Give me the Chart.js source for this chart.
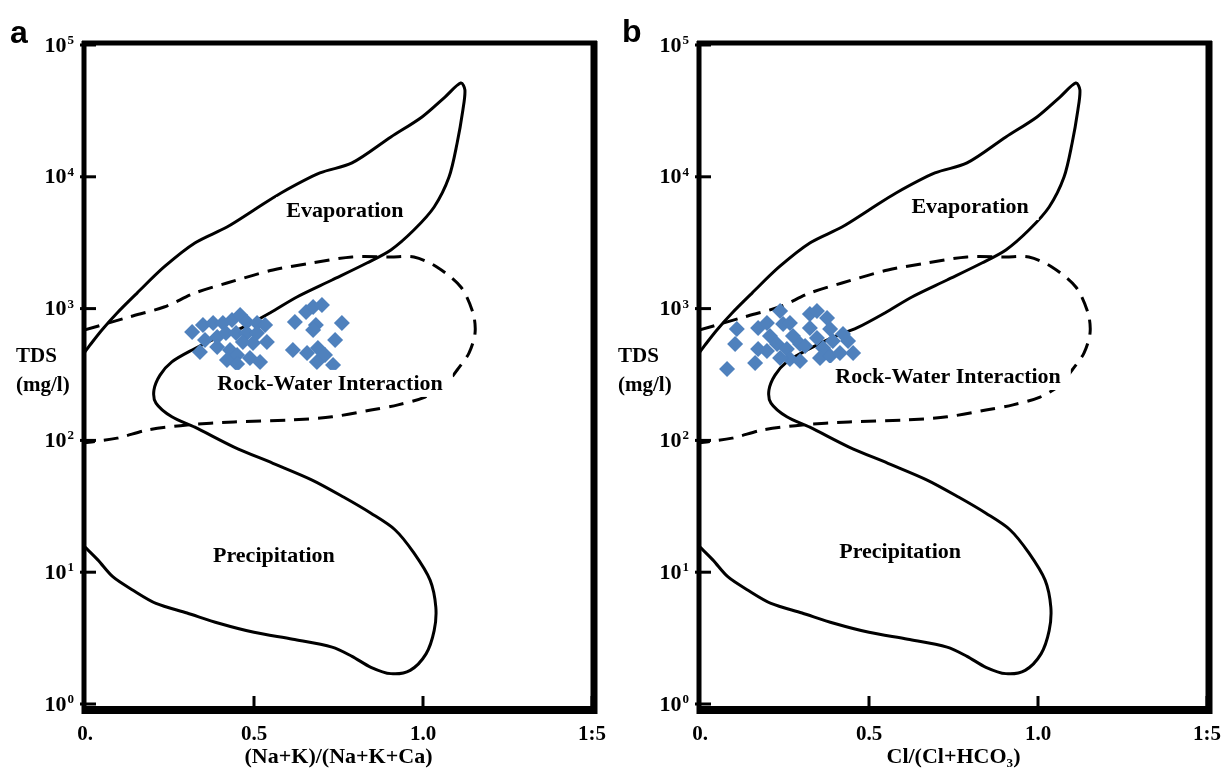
<!DOCTYPE html>
<html>
<head>
<meta charset="utf-8">
<title>Gibbs diagram</title>
<script src="https://cdn.jsdelivr.net/npm/chart.js@4.4.1/dist/chart.umd.min.js"></script>
<style>
  html, body { margin: 0; padding: 0; background: #fff; }
  #wrap { position: relative; width: 1226px; height: 773px; overflow: hidden; background: #fff; }
  #wrap canvas { position: absolute; top: 0; }
  #chartA { left: 0; }
  #chartB { left: 613px; }
</style>
</head>
<body>
<div id="wrap">
  <canvas id="chartA" width="613" height="773"></canvas>
  <canvas id="chartB" width="613" height="773"></canvas>
</div>
<script>
// 축 눈금
const xTickValues = [0, 0.5, 1.0, 1.5];
const xTickLabels = ['0.', '0.5', '1.0', '1:5'];
const yTickValues = [1, 10, 100, 1000, 10000, 100000];
const yTickBase = '10';
const yTickExponents = ['0', '1', '2', '3', '4', '5'];

// Gibbs 경계선 (실선) - 비율, TDS(mg/l)
const boundaryRatio = [0, 0.015, 0.050, 0.095, 0.154, 0.234, 0.325, 0.420, 0.500, 0.580,
    0.695, 0.790, 0.905, 0.997, 1.065, 1.112, 1.124, 1.118, 1.101, 1.077,
    1.033, 0.973, 0.905, 0.834, 0.731, 0.627, 0.547, 0.464, 0.396, 0.317,
    0.257, 0.222, 0.204, 0.210, 0.257, 0.325, 0.441, 0.556, 0.672, 0.766,
    0.846, 0.917, 0.973, 1.021, 1.038, 1.033, 1.009, 0.962, 0.905, 0.846,
    0.790, 0.731, 0.615, 0.500, 0.396, 0.302, 0.210, 0.142, 0.083, 0.038, 0];
const boundaryTds = [469, 530, 689, 927, 1312, 2070, 3148, 4159, 5598, 7534,
    10690, 12735, 20045, 28445, 40272, 51523, 45604, 32137, 18030, 9954,
    5902, 3945, 2786, 2218, 1648, 1225, 927, 713, 610, 485,
    394, 313, 241, 192, 151, 126, 89, 67, 50, 37,
    28, 21, 14, 8.7, 5.4, 3.6, 2.4, 1.8, 1.7, 1.9,
    2.3, 2.7, 3.1, 3.5, 4.1, 4.9, 5.8, 7.3, 9.2, 12.4, 15.5];

// 암석-물 상호작용 영역 (점선)
const dashedRatio = [0, 0.130, 0.234, 0.325, 0.420, 0.556, 0.672, 0.790, 0.905, 0.973,
    1.041, 1.112, 1.148, 1.154, 1.136, 1.101, 1.065, 1.006, 0.926, 0.846,
    0.731, 0.615, 0.441, 0.302, 0.186, 0.095, 0];
const dashedTds = [689, 863, 1028, 1312, 1564, 1963, 2218, 2465, 2465, 2465,
    2070, 1459, 927, 653, 460, 342, 263, 213, 186, 170,
    151, 143, 138, 131, 120, 104, 96];

// 패널 a 시료: (Na+K)/(Na+K+Ca)
const sampleRatioA = [0.317, 0.349, 0.379, 0.408, 0.435, 0.459, 0.479, 0.509, 0.533, 0.355,
    0.391, 0.417, 0.447, 0.479, 0.509, 0.340, 0.391, 0.429, 0.467, 0.497,
    0.538, 0.420, 0.450, 0.450, 0.488, 0.518, 0.621, 0.654, 0.675, 0.701,
    0.683, 0.760, 0.675, 0.740, 0.615, 0.657, 0.689, 0.710, 0.686, 0.734];
const sampleTdsA = [664, 751, 778, 778, 820, 894, 791, 778, 751, 578,
    610, 653, 653, 653, 653, 469, 512, 485, 558, 548,
    558, 407, 445, 380, 422, 394, 791, 942, 1028, 1065,
    751, 778, 689, 578, 485, 460, 502, 445, 394, 373];

// 패널 b 시료: Cl/(Cl+HCO3)
const sampleRatioB = [0.080, 0.109, 0.104, 0.163, 0.172, 0.172, 0.198, 0.207, 0.237, 0.246,
    0.228, 0.198, 0.266, 0.275, 0.257, 0.266, 0.237, 0.296, 0.325, 0.346,
    0.325, 0.376, 0.385, 0.346, 0.364, 0.393, 0.355, 0.385, 0.414, 0.438,
    0.453, 0.423, 0.311, 0.296];
const sampleTdsB = [348, 700, 539, 387, 713, 494, 778, 620, 959, 764,
    539, 477, 778, 620, 494, 415, 422, 539, 910, 959,
    713, 849, 700, 598, 502, 568, 422, 437, 460, 568,
    460, 642, 520, 400];

// 영역 이름
const regionLabelsA = [
    { text: 'Evaporation', x: 0.769, y: 5600 },
    { text: 'Rock-Water Interaction', x: 0.725, y: 273 },
    { text: 'Precipitation', x: 0.559, y: 13.5 }
];
const regionLabelsB = [
    { text: 'Evaporation', x: 0.799, y: 6000 },
    { text: 'Rock-Water Interaction', x: 0.734, y: 308 },
    { text: 'Precipitation', x: 0.592, y: 14.5 }
];

const $ = (id) => document.getElementById(id);
const SERIF = "'Liberation Serif', 'DejaVu Serif', serif";

Chart.defaults.font.family = SERIF;
Chart.defaults.font.weight = 'bold';
Chart.defaults.color = '#000';

const toPoints = (xs, ys) => xs.map((v, i) => ({ x: v, y: ys[i] }));

/**
 * 테두리, 안쪽 눈금, y 눈금 라벨, 영역 이름, TDS 라벨, 패널 문자
 */
const decorPlugin = {
    id: 'decor',
    afterDatasetsDraw(chart, args, opts) {
        const { ctx, chartArea: a } = chart;
        const xs = chart.scales.x, ys = chart.scales.y;
        ctx.save();

        // 영역 이름 (흰 배경)
        ctx.font = 'bold 22px ' + SERIF;
        ctx.textAlign = 'center';
        ctx.textBaseline = 'middle';
        opts.regions.forEach(r => {
            const px = xs.getPixelForValue(r.x);
            const py = ys.getPixelForValue(r.y);
            const w = ctx.measureText(r.text).width;
            ctx.fillStyle = '#fff';
            ctx.fillRect(px - w / 2 - 10, py - 13, w + 20, 27);
            ctx.fillStyle = '#000';
            ctx.fillText(r.text, px, py + 1);
        });

        // 테두리
        ctx.strokeStyle = '#000';
        ctx.lineCap = 'butt';
        const line = (w, x1, y1, x2, y2) => {
            ctx.lineWidth = w;
            ctx.beginPath();
            ctx.moveTo(x1, y1);
            ctx.lineTo(x2, y2);
            ctx.stroke();
        };
        line(5, a.left - 1, a.top - 4, a.left - 1, a.bottom + 10);
        line(5, a.left - 3, a.top - 2, a.right + 5, a.top - 2);
        line(7, a.right + 2, a.top - 4, a.right + 2, a.bottom + 10);
        line(8, a.left - 3, a.bottom + 6, a.right + 5, a.bottom + 6);

        // 안쪽 눈금
        yTickValues.forEach(v => {
            const py = ys.getPixelForValue(v);
            line(3, a.left - 5, py, a.left + 11, py);
        });
        xTickValues.slice(1).forEach(v => {
            const px = xs.getPixelForValue(v);
            line(3, px, a.bottom + 4, px, a.bottom - 8);
        });

        // y 눈금 라벨 (10 + 위첨자)
        ctx.fillStyle = '#000';
        yTickValues.forEach((v, i) => {
            const py = ys.getPixelForValue(v);
            const right = a.left - 11;
            ctx.font = 'bold 13px ' + SERIF;
            const ew = ctx.measureText(yTickExponents[i]).width;
            ctx.textAlign = 'left';
            ctx.textBaseline = 'alphabetic';
            ctx.fillText(yTickExponents[i], right - ew, py - 1);
            ctx.font = 'bold 22px ' + SERIF;
            ctx.textAlign = 'right';
            ctx.textBaseline = 'middle';
            ctx.fillText(yTickBase, right - ew - 1, py + 1);
        });
        ctx.restore();
    },
    afterDraw(chart, args, opts) {
        const { ctx } = chart;
        ctx.save();
        ctx.fillStyle = '#000';
        ctx.textAlign = 'left';
        ctx.textBaseline = 'middle';
        ctx.font = 'bold 21px ' + SERIF;
        ctx.fillText('TDS', opts.tdsX, 357);
        ctx.fillText('(mg/l)', opts.tdsX, 386);

        ctx.textBaseline = 'alphabetic';
        ctx.font = "bold 32px 'Liberation Sans', Arial, sans-serif";
        ctx.fillText(opts.letter, opts.letterX, opts.letterY);
        ctx.restore();
    }
};

/**
 * 패널 하나 그리기
 */
function renderPanel(canvasId, p) {
    new Chart($(canvasId), {
        type: 'scatter',
        data: {
            datasets: [
                {
                    label: 'samples',
                    data: toPoints(p.ratios, p.tds),
                    pointStyle: 'rectRot',
                    pointRadius: 8,
                    backgroundColor: '#4F81BD',
                    borderWidth: 0,
                    order: 0
                },
                {
                    label: 'Rock-Water Interaction',
                    data: toPoints(dashedRatio, dashedTds),
                    showLine: true,
                    borderColor: '#000',
                    borderWidth: 3,
                    borderDash: [15, 9],
                    pointRadius: 0,
                    tension: 0.3,
                    order: 1
                },
                {
                    label: 'boundary',
                    data: toPoints(boundaryRatio, boundaryTds),
                    showLine: true,
                    borderColor: '#000',
                    borderWidth: 3,
                    pointRadius: 0,
                    tension: 0.3,
                    order: 2
                }
            ]
        },
        options: {
            responsive: false,
            animation: false,
            events: [],
            layout: { padding: { top: 45, right: p.rightPad, bottom: 0, left: 0 } },
            plugins: {
                legend: { display: false },
                tooltip: { enabled: false },
                decor: { letter: p.letter, letterX: p.letterX, letterY: p.letterY, tdsX: p.tdsX, regions: p.regions }
            },
            scales: {
                x: {
                    type: 'linear',
                    min: 0,
                    max: 1.5,
                    grid: { display: false },
                    border: { display: false },
                    afterBuildTicks: (s) => { s.ticks = xTickValues.map(v => ({ value: v })); },
                    afterFit: (s) => { s.height = 69; s.paddingLeft = 0; s.paddingRight = 0; },
                    ticks: {
                        autoSkip: false,
                        maxRotation: 0,
                        padding: 10,
                        font: { size: 21, weight: 'bold' },
                        callback: (v, i) => xTickLabels[i]
                    },
                    title: {
                        display: true,
                        text: p.xTitle,
                        font: { size: 22, weight: 'bold' },
                        padding: { top: 0, bottom: 2 }
                    }
                },
                y: {
                    type: 'logarithmic',
                    min: 1,
                    max: 100000,
                    grid: { display: false },
                    border: { display: false },
                    afterBuildTicks: (s) => { s.ticks = yTickValues.map(v => ({ value: v })); },
                    afterFit: (s) => { s.width = p.yWidth; s.paddingTop = 0; s.paddingBottom = 0; },
                    ticks: { display: false }
                }
            }
        },
        plugins: [decorPlugin]
    });
}

renderPanel('chartA', {
    ratios: sampleRatioA, tds: sampleTdsA, regions: regionLabelsA,
    xTitle: '(Na+K)/(Na+K+Ca)', letter: 'a', letterX: 10, letterY: 43,
    tdsX: 16, yWidth: 85, rightPad: 21
});
renderPanel('chartB', {
    ratios: sampleRatioB, tds: sampleTdsB, regions: regionLabelsB,
    xTitle: 'Cl/(Cl+HCO₃)', letter: 'b', letterX: 9, letterY: 42,
    tdsX: 5, yWidth: 87, rightPad: 19
});
</script>
</body>
</html>
